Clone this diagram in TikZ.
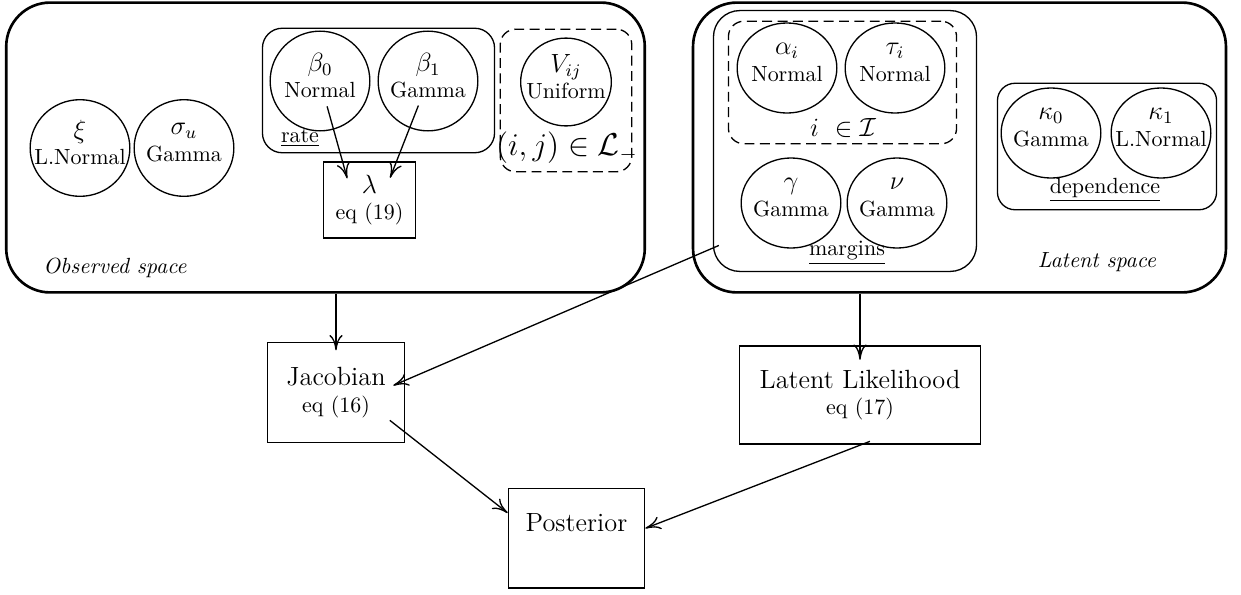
\documentclass[tikz,border=0pt]{standalone}
\usepackage{mathtools}
\usepackage{amsfonts}
\usepackage{amssymb}
\usepackage{tikz}
\usetikzlibrary{shapes.geometric, arrows.meta}

\begin{document}
\begin{tikzpicture}[x=0.016cm, y=-0.016cm,
	prior/.style 2 args={draw, semithick, ellipse, minimum width=45.4pt, minimum height=45.4pt,
		label={[align=center, yshift=2.5pt]center:{\large #1}\\#2}},
	flat/.style={minimum height=41pt},
	space/.style={draw, very thick, rounded corners=20pt, minimum height=132pt},
	group/.style={draw, semithick, rounded corners=9pt},
	plate/.style={draw, semithick, rounded corners=7pt, dash pattern=on 4.5pt off 2.5pt},
	calc/.style={draw, semithick, align=center},
	arr/.style={-{To[length=7pt, width=6pt]}, semithick}]
	\useasboundingbox (0,0) rectangle (1241,595);
	% observed space
	\draw (325.5,147.5) node(obs) [space, minimum width=290.8pt] {};
	\draw (80,148) node(xi) [prior={$\xi$}{L.Normal}, minimum height=44pt] {};
	\draw (184,148) node(su) [prior={$\sigma_u$}{Gamma}, minimum height=44pt] {};
	\draw (378.5,90.5) node(rate) [group, minimum width=105.7pt, minimum height=56.7pt] {};
	\draw (320,81) node(b0) [prior={$\beta_0$}{Normal}] {};
	\draw (428,81) node(b1) [prior={$\beta_1$}{Gamma}] {};
	\draw (300,138) node(ratelbl) {\underline{rate}};
	\draw (369.5,200) node(lam) [calc, minimum width=42.2pt, minimum height=34.5pt] {{\large $\lambda$}\\eq (19)};
	\draw (566,100.5) node(vplate) [plate, minimum width=59.9pt, minimum height=64.9pt] {};
	\draw (566,82) node(v) [prior={$V_{ij}$}{Uniform}, minimum width=41.3pt, minimum height=40pt] {};
	\draw (567,148) node(vlbl) {\Large $(i,j) \in \mathcal{L}_-$};
	\draw (115,268) node(obslbl) {\textit{Observed space}};
	% latent space
	\draw (959.5,147.5) node(lat) [space, minimum width=242.7pt] {};
	\draw (845,141) node(marg) [group, rounded corners=12pt, minimum width=119.8pt, minimum height=118.8pt] {};
	\draw (842.5,82.5) node(iplate) [plate, minimum width=103.9pt, minimum height=55.8pt] {};
	\draw (787,68) node(al) [prior={$\alpha_i$}{Normal}, flat] {};
	\draw (895,68) node(tau) [prior={$\tau_i$}{Normal}, flat] {};
	\draw (843,128) node(ilbl) {\large $i\ \in \mathcal{I}$};
	\draw (791,203) node(ga) [prior={$\gamma$}{Gamma}, flat] {};
	\draw (897,203) node(nu) [prior={$\nu$}{Gamma}, flat] {};
	\draw (847,253) node(marglbl) {\underline{margins}};
	\draw (1107,146.5) node(dep) [group, rounded corners=8pt, minimum width=99.8pt, minimum height=57.6pt] {};
	\draw (1051,133) node(k0) [prior={$\kappa_0$}{Gamma}, flat] {};
	\draw (1161,133) node(k1) [prior={$\kappa_1$}{L.Normal}, flat] {};
	\draw (1105,190) node(deplbl) {\underline{dependence}};
	\draw (1097,262) node(latlbl) {\textit{Latent space}};
	% likelihood parts
	\draw (336,392.5) node(jac) [calc, minimum width=62.6pt, minimum height=45.8pt] {{\large Jacobian}\\eq (16)};
	\draw (860,395) node(ll) [calc, minimum width=109.8pt, minimum height=44.5pt] {{\large Latent Likelihood}\\eq (17)};
	\draw (576.5,538) node(post) [calc, minimum width=62.1pt, minimum height=45.4pt, text depth=14pt] {\large Posterior};
	\path[draw, arr, shorten <=12pt, shorten >=-8pt] (b0.center) -- (lam.125);
	\path[draw, arr, shorten <=12pt, shorten >=-8pt] (b1.center) -- (lam.55);
	\path[draw, arr, shorten >=-4pt] (jac.north |- obs.south) -- (jac.north);
	\path[draw, arr, shorten >=-6.5pt] (ll.north |- lat.south) -- (ll.north);
	\path[draw, arr, shorten <=-3pt, shorten >=-6pt] (marg.219) -- (jac.10);
	\path[draw, arr, shorten <=-9pt] (jac.-30) -- (post.160);
	\path[draw, arr, shorten <=-4pt] (ll.-88) -- (post.8);
\end{tikzpicture}
\end{document}
